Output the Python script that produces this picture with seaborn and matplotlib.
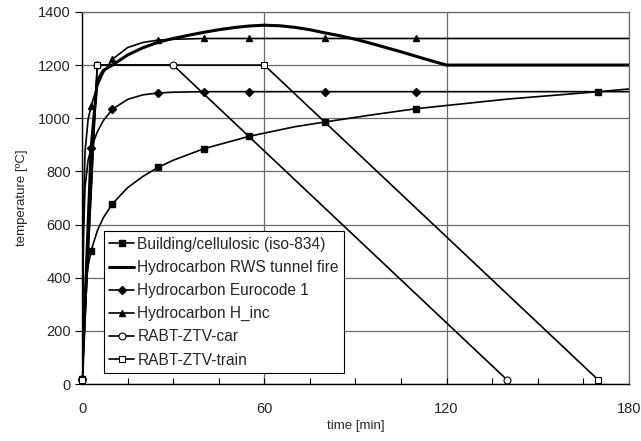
import matplotlib

matplotlib.use("Agg")
import matplotlib.pyplot as plt
from matplotlib.lines import Line2D
from matplotlib.ticker import MultipleLocator
import seaborn as sns

# ─────────────────────────────────────────────
# data
# ─────────────────────────────────────────────
iso_t = [0, 1, 2, 3, 5, 7, 10, 15, 20, 25, 30, 40, 55, 70, 80, 95, 110, 140, 170, 180]
iso_T = [20, 349, 445, 502, 576, 626, 678, 739, 781, 815, 842, 885, 932, 968, 986, 1012, 1036, 1072, 1100, 1110]
iso_mark_t = [0, 3, 10, 25, 40, 55, 80, 110, 170]

rws_t = [0, 3, 5, 7, 10, 15, 20, 25, 30, 35, 40, 45, 50, 55, 60, 65, 70, 75,
         80, 85, 90, 95, 100, 105, 110, 115, 120, 180]
rws_T = [20, 890, 1140, 1180, 1200, 1238, 1265, 1286, 1300, 1312, 1323, 1333,
         1341, 1347, 1350, 1348, 1342, 1333, 1321, 1310, 1297, 1282, 1266, 1250,
         1233, 1216, 1200, 1200]

ec_t = [0, 0.5, 1, 2, 3, 5, 7, 10, 15, 20, 25, 30, 40, 55, 80, 110, 180]
ec_T = [20, 569, 743, 843, 887, 948, 991, 1034, 1071, 1088, 1095, 1098, 1100, 1100, 1100, 1100, 1100]
ec_mark_t = [0, 3, 10, 25, 40, 55, 80, 110]

hinc_t = [0, 0.5, 1, 2, 3, 5, 7, 10, 15, 20, 25, 30, 40, 55, 80, 110, 180]
hinc_T = [20, 670, 877, 996, 1047, 1120, 1171, 1222, 1266, 1285, 1294, 1297, 1300, 1300, 1300, 1300, 1300]
hinc_mark_t = [0, 3, 10, 25, 40, 55, 80, 110]

car_t = [0, 5, 30, 140]
car_T = [15, 1200, 1200, 15]

train_t = [0, 5, 60, 170]
train_T = [15, 1200, 1200, 15]

labels = [
    "Building/cellulosic (iso-834)",
    "Hydrocarbon RWS tunnel fire",
    "Hydrocarbon Eurocode 1",
    "Hydrocarbon H_inc",
    "RABT-ZTV-car",
    "RABT-ZTV-train",
]


def marks(t, T, sel):
    return [t[i] for i in range(len(t)) if t[i] in sel], [T[i] for i in range(len(t)) if t[i] in sel]


sns.set_theme(style="white")
plt.rcParams["font.family"] = ["Liberation Sans", "DejaVu Sans"]

fig = plt.figure(figsize=(6.41, 4.41), dpi=100)
ax = fig.add_axes([0.128, 0.129, 0.853, 0.844])

lw = 1.2
# lines
sns.lineplot(x=iso_t, y=iso_T, color="black", lw=lw, estimator=None, sort=False, ax=ax)
sns.lineplot(x=rws_t, y=rws_T, color="black", lw=2.2, estimator=None, sort=False, ax=ax)
sns.lineplot(x=ec_t, y=ec_T, color="black", lw=lw, estimator=None, sort=False, ax=ax)
sns.lineplot(x=hinc_t, y=hinc_T, color="black", lw=lw, estimator=None, sort=False, ax=ax)
sns.lineplot(x=car_t, y=car_T, color="black", lw=lw, estimator=None, sort=False, ax=ax)
sns.lineplot(x=train_t, y=train_T, color="black", lw=lw, estimator=None, sort=False, ax=ax)

# markers
mx, my = marks(iso_t, iso_T, iso_mark_t)
ax.plot(mx, my, ls="none", marker="s", ms=5, color="black", zorder=4, clip_on=False)
mx, my = marks(ec_t, ec_T, ec_mark_t)
ax.plot(mx, my, ls="none", marker="D", ms=4.5, color="black", zorder=4, clip_on=False)
mx, my = marks(hinc_t, hinc_T, hinc_mark_t)
ax.plot(mx, my, ls="none", marker="^", ms=5, color="black", zorder=4, clip_on=False)
ax.plot(car_t, car_T, ls="none", marker="o", ms=5, mfc="white", mec="black",
        mew=0.8, zorder=5, clip_on=False)
ax.plot(train_t, train_T, ls="none", marker="s", ms=5, mfc="white", mec="black",
        mew=0.8, zorder=6, clip_on=False)

ax.set_xlim(0, 180)
ax.set_ylim(0, 1400)
ax.xaxis.set_major_locator(MultipleLocator(60))
ax.xaxis.set_minor_locator(MultipleLocator(15))
ax.yaxis.set_major_locator(MultipleLocator(200))
ax.grid(True, which="major", color="#6a6a6a", lw=0.9)
ax.set_axisbelow(True)

for s in ["left", "bottom"]:
    ax.spines[s].set_color("black")
    ax.spines[s].set_linewidth(1.0)
for s in ["top", "right"]:
    ax.spines[s].set_color("#6a6a6a")
    ax.spines[s].set_linewidth(0.9)

ax.tick_params(axis="y", which="major", direction="out", length=5, width=0.8,
               color="black", labelsize=10.5, pad=3, left=True)
ax.tick_params(axis="x", which="both", direction="in", length=4, width=0.8,
               color="black", labelsize=10.5, pad=13, bottom=True)

ax.set_xlabel("time [min]", fontsize=9.5, labelpad=3)
ax.set_ylabel("temperature [ºC]", fontsize=9.5, labelpad=7)

handles = [
    Line2D([], [], color="black", lw=lw, marker="s", ms=5),
    Line2D([], [], color="black", lw=2.2),
    Line2D([], [], color="black", lw=lw, marker="D", ms=4.5),
    Line2D([], [], color="black", lw=lw, marker="^", ms=5),
    Line2D([], [], color="black", lw=lw, marker="o", ms=5, mfc="white", mew=0.8),
    Line2D([], [], color="black", lw=lw, marker="s", ms=5, mfc="white", mew=0.8),
]
leg = ax.legend(handles, labels, loc="lower left", bbox_to_anchor=(0.04, 0.03),
                fontsize=11.2, frameon=True, fancybox=False, framealpha=1,
                edgecolor="black", handlelength=1.6, handletextpad=0.2,
                labelspacing=0.52, borderpad=0.35, borderaxespad=0)
leg.get_frame().set_linewidth(0.8)
leg.set_zorder(10)

plt.savefig("out.png", dpi=100)
plt.close()
